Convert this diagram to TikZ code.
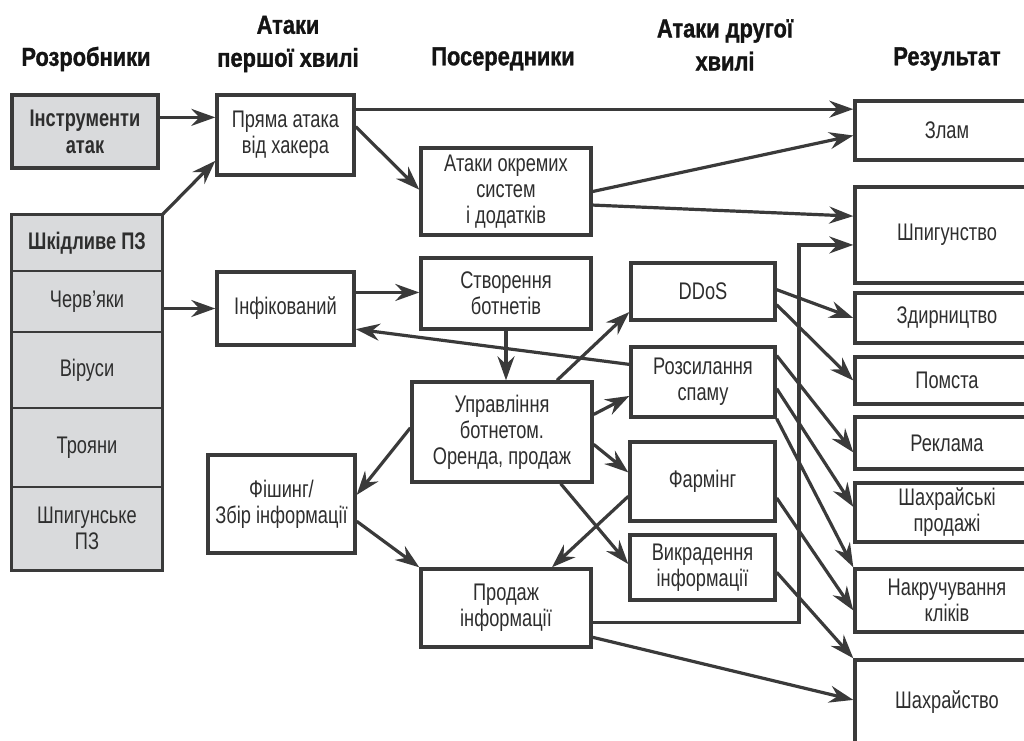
\documentclass[tikz,border=0pt]{standalone}
\usepackage{fontspec}
\setmainfont{Liberation Sans}[FakeStretch=0.76]
\newfontfamily\headfont{Liberation Sans}[FakeStretch=0.84, FakeBold=1.2]
\usetikzlibrary{arrows.meta, positioning, calc}

\definecolor{lineGray}{HTML}{3A3A3A}
\definecolor{cellGray}{HTML}{D9DADC}
\definecolor{textGray}{HTML}{2E2E2E}

\tikzset{
    box/.style={draw=lineGray, line width=1.7pt, fill=white, align=center, text=textGray,
        font=\fontsize{12}{13}\selectfont, inner sep=2pt},
    boxsize/.style 2 args={minimum width=#1*0.5pt, minimum height=#2*0.5pt},
    cell/.style={draw=lineGray, line width=0.7pt, fill=cellGray, align=center, text=textGray,
        font=\fontsize{12}{13}\selectfont, inner sep=2pt},
    boldcell/.style={cell, font=\fontsize{12}{13.5}\selectfont\bfseries},
    head/.style={font=\headfont\fontsize{13}{16.5}\selectfont\bfseries, text=black!92, align=center},
    arr/.style={draw=lineGray, line width=1.6pt, -{Stealth[length=12pt, width=8.5pt, inset=4pt]}},
}

\begin{document}
\begin{tikzpicture}[x=0.5pt, y=-0.5pt]
    \useasboundingbox (0,0) rectangle (1024,740);

    % column heads
    \node[head] (h1) at (86,59) {Розробники};
    \node[head] (h2) at (288,44) {Атаки\\першої хвилі};
    \node[head] (h3) at (503,59) {Посередники};
    \node[head] (h4) at (725,45) {Атаки другої\\хвилі};
    \node[head] (h5) at (947,59) {Результат};

    % developers
    \node[boldcell, line width=1.7pt, boxsize={146}{73}] (ins) at (85,131.5) {Інструменти\\атак};
    \node[boldcell, boxsize={150}{56}] (mal) at (87,243) {Шкідливе ПЗ};
    \node[cell, boxsize={150}{61}] (worm) at (87,301.5) {Черв’яки};
    \node[cell, boxsize={150}{76}] (vir) at (87,370) {Віруси};
    \node[cell, boxsize={150}{79}] (troj) at (87,447.5) {Трояни};
    \node[cell, boxsize={150}{83}] (spyw) at (87,528.5) {Шпигунське\\ПЗ};
    \draw[lineGray, line width=1.7pt] (mal.north west) rectangle (spyw.south east);

    % first wave
    \node[box, boxsize={137}{80}] (pa) at (285.5,135) {Пряма атака\\від хакера};
    \node[box, boxsize={137}{73}] (inf) at (285.5,308.5) {Інфікований};
    \node[box, boxsize={147}{98}] (phish) at (281.5,504) {Фішинг/\\Збір інформації};

    % intermediaries
    \node[box, boxsize={170}{87}] (sys) at (506,191.5) {Атаки окремих\\систем\\і додатків};
    \node[box, boxsize={170}{71}] (bot) at (506,293.5) {Створення\\ботнетів};
    \node[box, boxsize={180}{100}] (ctl) at (502,432) {Управління\\ботнетом.\\Оренда, продаж};
    \node[box, boxsize={170}{78}] (sell) at (506,608) {Продаж\\інформації};

    % second wave
    \node[box, boxsize={144}{57}] (ddos) at (703,291.5) {DDoS};
    \node[box, boxsize={144}{70}] (spam) at (703,382) {Розсилання\\спаму};
    \node[box, boxsize={145}{79}] (pharm) at (702.5,481.5) {Фармінг};
    \node[box, boxsize={145}{65}] (steal) at (702.5,567.5) {Викрадення\\інформації};

    % results
    \node[box, boxsize={184}{59}] (hack) at (947,130.5) {Злам};
    \node[box, boxsize={184}{96}] (spy) at (947,235) {Шпигунство};
    \node[box, boxsize={184}{50}] (extort) at (947,318) {Здирництво};
    \node[box, boxsize={184}{47}] (rev) at (947,380.5) {Помста};
    \node[box, boxsize={184}{52}] (ads) at (947,443) {Реклама};
    \node[box, boxsize={184}{59}] (fsale) at (947,512.5) {Шахрайські\\продажі};
    \node[box, boxsize={184}{63}] (click) at (947,600.5) {Накручування\\кліків};
    \node[box, boxsize={184}{84}] (fraud) at (947,702) {Шахрайство};

    % arrows from developers
    \draw[arr] ($(ins.north east)!.315!(ins.south east)$) coordinate (p) -- (p -| pa.west);
    \draw[arr] (mal.north east) -- ($(pa.north west)!.81!(pa.south west)$);
    \draw[arr] (worm.east |- inf.west) -- (inf.west);

    % arrows from first wave
    \draw[arr] ($(pa.north east)!.19!(pa.south east)$) coordinate (p) -- (p -| hack.west);
    \draw[arr] ($(pa.north east)!.4!(pa.south east)$) -- ($(sys.north west)!.48!(sys.south west)$);
    \draw[arr] ($(inf.north east)!.29!(inf.south east)$) coordinate (p) -- (p -| bot.west);
    \draw[arr] ($(phish.north east)!.67!(phish.south east)$) -- (sell.north west);

    % arrows from intermediaries
    \draw[arr] ($(sys.north east)!.5!(sys.south east)$) -- ($(hack.north west)!.58!(hack.south west)$);
    \draw[arr] ($(sys.north east)!.65!(sys.south east)$) -- ($(spy.north west)!.31!(spy.south west)$);
    \draw[arr] (bot.south) -- (bot.south |- ctl.north);
    \draw[arr] ($(ctl.north west)!.8!(ctl.north east)$) -- ($(ddos.north west)!.84!(ddos.south west)$);
    \draw[arr] ($(ctl.north east)!.33!(ctl.south east)$) -- ($(spam.north west)!.69!(spam.south west)$);
    \draw[arr] ($(ctl.north east)!.62!(ctl.south east)$) -- ($(pharm.north west)!.39!(pharm.south west)$);
    \draw[arr] ($(ctl.south west)!.82!(ctl.south east)$) -- ($(steal.north west)!.45!(steal.south west)$);
    \draw[arr] ($(ctl.north west)!.46!(ctl.south west)$) -- ($(phish.north east)!.41!(phish.south east)$);
    \coordinate (route) at (799,0);
    \path ($(spy.north west)!.6!(spy.south west)$) coordinate (q);
    \draw[arr] ($(sell.north east)!.68!(sell.south east)$) -| (route |- q) -- (q);
    \draw[arr] ($(sell.north east)!.86!(sell.south east)$) -- ($(fraud.north west)!.476!(fraud.south west)$);

    % arrows from second wave
    \draw[arr] ($(spam.north west)!.26!(spam.south west)$) -- ($(inf.north east)!.77!(inf.south east)$);
    \draw[arr] ($(ddos.north east)!.47!(ddos.south east)$) -- (extort.west);
    \draw[arr] ($(ddos.north east)!.72!(ddos.south east)$) -- (rev.west);
    \draw[arr] ($(spam.north east)!.14!(spam.south east)$) -- ($(ads.north west)!.67!(ads.south west)$);
    \draw[arr] ($(spam.north east)!.59!(spam.south east)$) -- ($(fsale.north west)!.41!(fsale.south west)$);
    \draw[arr] (spam.south east) -- (click.north west);
    \draw[arr] ($(pharm.north west)!.68!(pharm.south west)$) -- ($(sell.north west)!.765!(sell.north east)$);
    \draw[arr] ($(pharm.north east)!.7!(pharm.south east)$) -- ($(click.north west)!.65!(click.south west)$);
    \draw[arr] ($(steal.north east)!.57!(steal.south east)$) -- (fraud.north west);
\end{tikzpicture}
\end{document}
